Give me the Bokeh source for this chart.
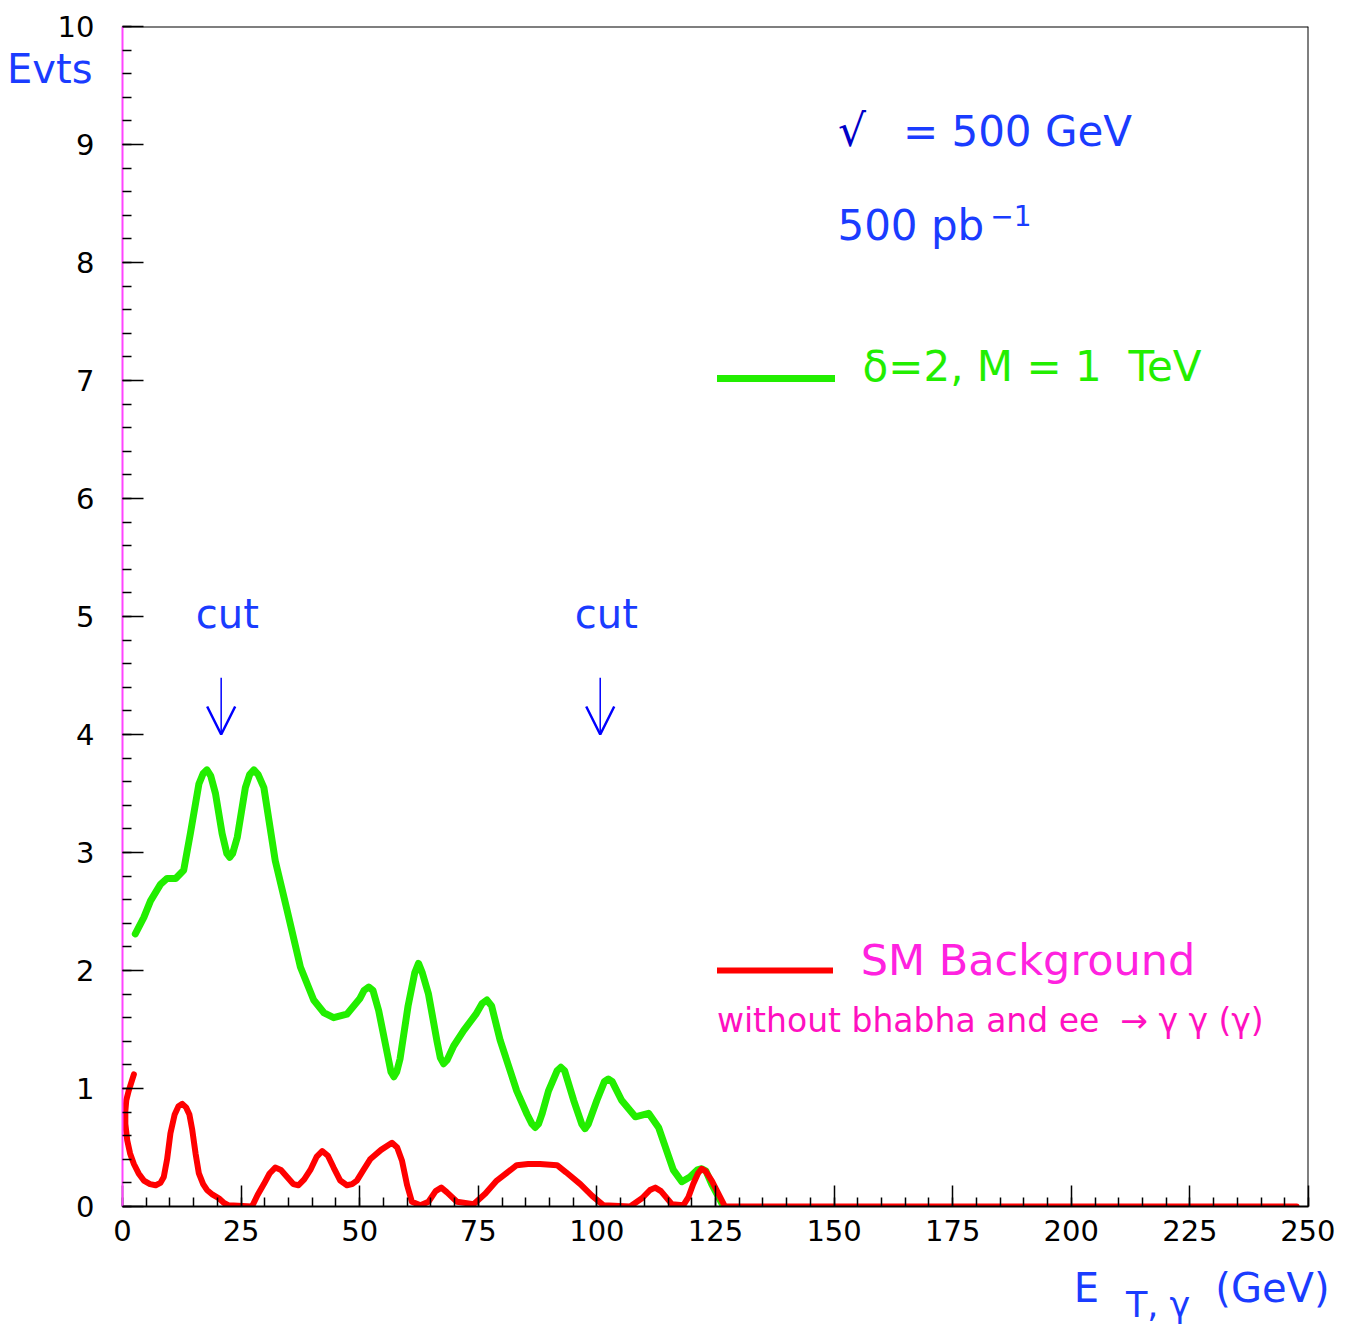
from bokeh.plotting import figure
from bokeh.models import (Range1d, FixedTicker, Label, Span, Arrow, OpenHead, Legend,
                          LegendItem, LinearAxis)
from bokeh.embed import file_html
from bokeh.resources import INLINE

# ---- data ----
signal_x = [2.7, 4.5, 5.9, 8.0, 9.4, 11.2, 12.9, 14.3, 16.1, 17.0, 17.8, 18.6, 19.6, 21.0, 22.0,
            22.6, 23.2, 24.2, 25.9, 26.8, 27.7, 28.6, 29.8, 32.2, 34.7, 37.5, 40.3, 42.5, 44.5, 47.3,
            50.0, 50.9, 51.9, 52.8, 54.0, 55.8, 56.6, 57.2, 57.8, 58.5, 60.2, 61.6, 62.4, 63.2, 64.5,
            66.3, 67.0, 67.7, 68.4, 69.8, 71.9, 74.5, 75.8, 76.8, 77.8, 79.6, 83.1, 85.3, 86.3, 87.0,
            87.7, 88.4, 89.8, 91.6, 92.4, 93.2, 95.1, 96.8, 97.5, 98.2, 100.0, 101.6, 102.4, 103.2, 105.2,
            108.1, 110.9, 113.0, 116.1, 117.9, 119.6, 121.2, 122.1, 123.0, 124.2, 126.7]
signal_y = [2.31, 2.45, 2.59, 2.73, 2.78, 2.78, 2.85, 3.16, 3.58, 3.67, 3.70, 3.65, 3.50, 3.16, 2.99,
            2.96, 2.99, 3.13, 3.55, 3.66, 3.70, 3.66, 3.55, 2.93, 2.51, 2.03, 1.75, 1.64, 1.60, 1.63,
            1.76, 1.83, 1.86, 1.83, 1.66, 1.30, 1.14, 1.10, 1.14, 1.25, 1.70, 1.98, 2.06, 1.98, 1.80,
            1.40, 1.26, 1.21, 1.24, 1.36, 1.49, 1.63, 1.72, 1.75, 1.70, 1.41, 0.98, 0.78, 0.70, 0.67,
            0.70, 0.78, 0.98, 1.15, 1.18, 1.15, 0.90, 0.70, 0.66, 0.70, 0.90, 1.06, 1.08, 1.06, 0.90,
            0.76, 0.79, 0.67, 0.31, 0.21, 0.25, 0.31, 0.32, 0.30, 0.19, 0.0]

bkg_x = [2.4, 1.3, 0.8, 0.6, 0.6, 1.0, 1.6, 2.4, 3.4, 4.5, 5.8, 7.0, 8.0, 8.7, 9.4,
         10.1, 11.0, 11.8, 12.6, 13.4, 14.1, 14.7, 15.4, 16.1, 17.0, 17.8, 19.0, 20.3, 21.4, 22.4,
         27.3, 28.5, 29.8, 31.0, 32.2, 33.4, 34.7, 36.0, 37.1, 38.3, 39.6, 40.9, 42.1, 43.3, 44.5,
         45.9, 47.3, 48.4, 49.4, 50.8, 52.2, 54.5, 56.8, 57.9, 58.9, 60.0, 61.0, 62.8, 64.5, 66.0,
         67.2, 68.4, 70.5, 74.0, 76.5, 78.9, 83.1, 85.5, 88.0, 91.6, 93.5, 96.5, 99.0, 101.4, 107.0,
         109.5, 111.2, 112.3, 113.5, 115.8, 118.2, 119.3, 120.3, 121.3, 122.1, 122.9, 124.2, 125.6, 127.0,
         247.5]
bkg_y = [1.12, 0.98, 0.90, 0.81, 0.70, 0.56, 0.45, 0.36, 0.28, 0.22, 0.19, 0.18, 0.20, 0.25, 0.40,
         0.62, 0.78, 0.85, 0.87, 0.84, 0.78, 0.65, 0.45, 0.28, 0.19, 0.14, 0.10, 0.07, 0.03, 0.01,
         0.0, 0.10, 0.19, 0.28, 0.33, 0.31, 0.25, 0.19, 0.18, 0.23, 0.31, 0.42, 0.47, 0.43, 0.33,
         0.22, 0.18, 0.19, 0.22, 0.31, 0.40, 0.48, 0.54, 0.50, 0.39, 0.18, 0.04, 0.01, 0.04, 0.13,
         0.16, 0.12, 0.04, 0.02, 0.11, 0.22, 0.35, 0.36, 0.36, 0.35, 0.29, 0.19, 0.09, 0.01, 0.0,
         0.07, 0.14, 0.16, 0.13, 0.02, 0.01, 0.08, 0.19, 0.28, 0.32, 0.30, 0.22, 0.11, 0.0,
         0.0]

cut_positions = [20.8, 100.7]
x_ticks = [0, 25, 50, 75, 100, 125, 150, 175, 200, 225, 250]
y_ticks = [0, 1, 2, 3, 4, 5, 6, 7, 8, 9, 10]

FONT = "DejaVu Sans"
BLUE = "#1a3cff"
GREEN = "#22ee00"
RED = "#ff0000"
MAGENTA = "#ff22e0"

p = figure(width=1335, height=1330, x_range=Range1d(0, 250), y_range=Range1d(0, 10),
           output_backend="svg", toolbar_location=None,
           min_border_left=122, min_border_right=27, min_border_top=26, min_border_bottom=124)
p.grid.visible = False
p.outline_line_color = None
p.background_fill_color = "white"
p.border_fill_color = "white"

p.xaxis.ticker = FixedTicker(ticks=x_ticks, minor_ticks=[i * 5 for i in range(51)])
p.yaxis.ticker = FixedTicker(ticks=y_ticks, minor_ticks=[i * 0.2 for i in range(51)])
for ax in (p.xaxis[0], p.yaxis[0]):
    ax.major_tick_in = 21
    ax.major_tick_out = 0
    ax.minor_tick_in = 9
    ax.minor_tick_out = 0
    ax.major_tick_line_color = "black"
    ax.minor_tick_line_color = "black"
    ax.major_tick_line_width = 1.5
    ax.minor_tick_line_width = 1.5
    ax.major_label_text_font = FONT
    ax.major_label_text_font_size = "29px"
    ax.major_label_text_color = "black"
    ax.axis_line_width = 2
p.yaxis.axis_line_color = "#ff44ff"
p.xaxis.axis_line_color = "black"
p.yaxis.major_label_standoff = 28
p.xaxis.major_label_standoff = 13


def text_axis(side, ticks, labels, size, standoff):
    ax = LinearAxis(ticker=FixedTicker(ticks=ticks, minor_ticks=[]),
                    major_label_overrides=dict(zip(ticks, labels)),
                    axis_line_color=None, major_tick_line_color=None, minor_tick_line_color=None,
                    major_tick_in=0, major_tick_out=0, minor_tick_in=0, minor_tick_out=0,
                    major_label_standoff=standoff, major_label_text_font=FONT,
                    major_label_text_font_size=size, major_label_text_color=BLUE)
    p.add_layout(ax, side)


# axis titles (outside the frame) carried by label-only axes
text_axis("left", [9.64], ["Evts"], "40px", -38)
text_axis("below", [203.2, 242.4], ["E", "(GeV)"], "40px", 21)
text_axis("below", [218.3], ["T, γ"], "35px", -29)

# frame top / right borders
p.add_layout(Span(location=10, dimension="width", line_color="black", line_width=2))
p.add_layout(Span(location=250, dimension="height", line_color="black", line_width=2))

sig = p.line(signal_x, signal_y, line_color=GREEN, line_width=7, line_join="round", line_cap="round")
bkg = p.line(bkg_x, bkg_y, line_color=RED, line_width=6, line_join="round", line_cap="round")

# legend sample lines
for r, loc, gw in ((sig, (595, 824), 118), (bkg, (595, 232), 116)):
    p.add_layout(Legend(items=[LegendItem(label=" ", renderers=[r])], location=loc,
                        glyph_width=gw, glyph_height=8, label_height=8, label_width=1,
                        label_standoff=0, padding=0, margin=0, spacing=0,
                        border_line_color=None, background_fill_alpha=0,
                        label_text_font_size="1px"))


def lab(text, x, y, size, color, align="left"):
    px = float(size.replace("px", ""))
    p.add_layout(Label(x=x, y=y + 0.37 * px / 118, text=text, text_font=FONT, text_font_size=size,
                       text_color=color, text_align=align, text_baseline="alphabetic"))


lab("δ=2, M = 1 \u00a0TeV", 156.0, 6.99, "42px", GREEN)
lab("SM Background", 155.6, 1.95, "43px", MAGENTA)
lab("without bhabha and ee \u00a0→ γ γ (γ)", 125.3, 1.47, "33px", "#ff10c0")
lab("√", 150.8, 8.98, "44px", "#0000c8")
lab("= 500 GeV", 164.5, 8.98, "42px", BLUE)
lab("500 pb", 150.7, 8.18, "42px", BLUE)
lab("−1", 182.9, 8.31, "28px", BLUE)

for c in cut_positions:
    lab("cut", c + 1.3, 4.90, "40px", BLUE, align="center")
    p.add_layout(Arrow(end=OpenHead(size=28, line_color="#0000ff", line_width=2.5),
                       x_start=c, y_start=4.48, x_end=c, y_end=4.0,
                       line_color="#0000ff", line_width=1.5))

open("out.html", "w").write(file_html(p, INLINE))
